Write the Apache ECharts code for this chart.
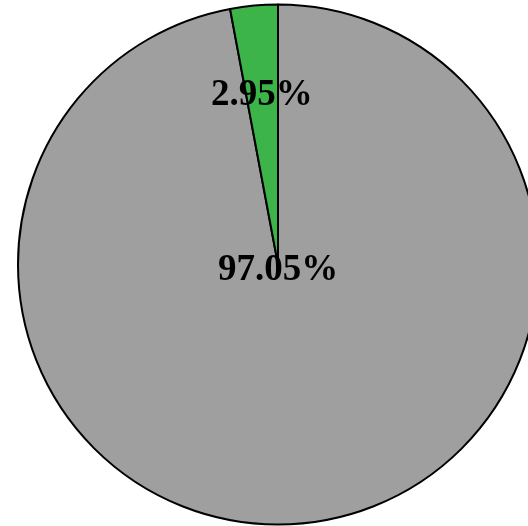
<!DOCTYPE html>
<html>
<head>
<meta charset="utf-8">
<script src="https://cdn.jsdelivr.net/npm/echarts@6/dist/echarts.min.js"></script>
<style>html,body{margin:0;padding:0;background:#fff;}#c{width:528px;height:526px;}</style>
</head>
<body>
<div id="c"></div>
<script>
var categories = ['Gray', 'Green'];
var values = [97.05, 2.95];
var colors = ['#9f9f9f', '#3cb44a'];

var chart = echarts.init(document.getElementById('c'));
var font = {fontFamily: '"Liberation Serif","Times New Roman",serif', fontSize: 37, fontWeight: 'bold', color: '#000'};

var mainData = categories.map(function (n, i) {
  return {
    name: n, value: values[i],
    itemStyle: {color: colors[i]},
    label: i === 0 ? Object.assign({show: true, position: 'center'}, font) : {show: false}
  };
});
var overlayData = categories.map(function (n, i) {
  return {
    name: n, value: values[i],
    label: i === 1 ? Object.assign({show: true, position: 'inside'}, font) : {show: false}
  };
});

chart.setOption({
  animation: false,
  series: [{
    type: 'pie',
    center: [278, 264.5],
    radius: [0, 260],
    startAngle: 90,
    clockwise: true,
    silent: true,
    itemStyle: {borderColor: '#000', borderWidth: 2},
    label: {formatter: function (p) { return p.value.toFixed(2) + '%'; }},
    labelLayout: {dy: 6},
    labelLine: {show: false},
    data: mainData
  }, {
    type: 'pie',
    center: [278, 264.5],
    radius: [80, 260],
    startAngle: 90,
    clockwise: true,
    silent: true,
    itemStyle: {color: 'rgba(0,0,0,0)', borderWidth: 0},
    label: {formatter: function (p) { return p.value.toFixed(2) + '%'; }},
    labelLayout: {dy: 3},
    labelLine: {show: false},
    data: overlayData
  }]
});
</script>
</body>
</html>
